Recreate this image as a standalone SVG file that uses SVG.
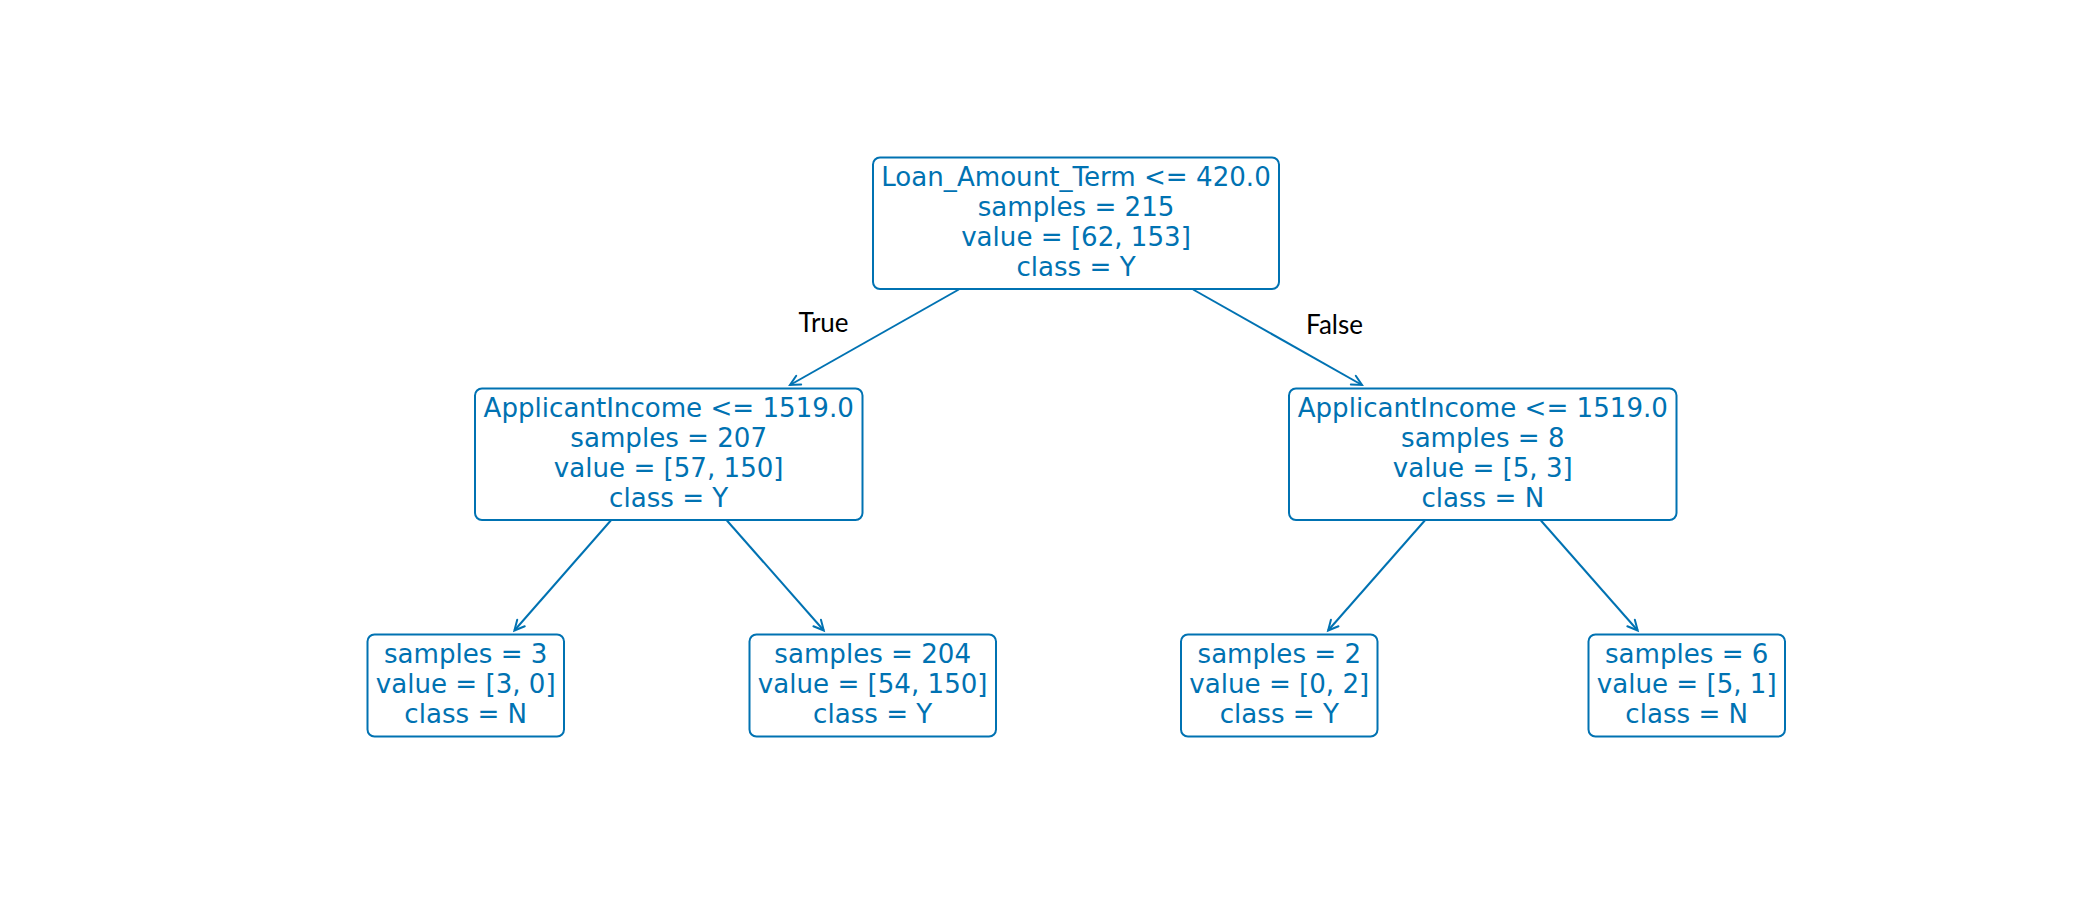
<svg xmlns="http://www.w3.org/2000/svg" width="2100" height="900" viewBox="0 0 2100 900">
<defs>
<marker id="ah" markerUnits="userSpaceOnUse" markerWidth="24" markerHeight="24" viewBox="-12 -12 24 24" refX="0" refY="0" orient="auto">
<path d="M-10,-5 L0,0 L-10,5" fill="none" stroke="#0072B2" stroke-width="2" stroke-linecap="round" stroke-linejoin="miter"/>
</marker>
</defs>
<style>
.box{fill:#ffffff;stroke:#0072B2;stroke-width:2}
.t{font-family:"DejaVu Sans",sans-serif;font-size:26.1px;fill:#0072B2;text-anchor:middle}
.e{stroke:#0072B2;stroke-width:2;fill:none;marker-end:url(#ah)}
.lbl{font-family:Lato,"Open Sans",sans-serif;font-size:26px;fill:#000000;text-anchor:middle}
</style>
<rect width="2100" height="900" fill="#ffffff"/>
<g id="connectors">
<line class="e" x1="958.8" y1="289.5" x2="790" y2="385"/>
<line class="e" x1="1193.1" y1="289.5" x2="1362" y2="385"/>
<line class="e" x1="610.8" y1="520.5" x2="514.4" y2="630.5"/>
<line class="e" x1="726.9" y1="520.5" x2="823.8" y2="630.5"/>
<line class="e" x1="1424.8" y1="520.5" x2="1328.1" y2="630.5"/>
<line class="e" x1="1540.9" y1="520.5" x2="1637.7" y2="630.5"/>
<text class="lbl" x="823.5" y="332">True</text>
<text class="lbl" x="1334.5" y="334">False</text>
</g>
<g id="node0">
<rect class="box" x="873" y="157.5" width="406" height="131.5" rx="7"/>
<text class="t" x="1076" y="185.5">Loan_Amount_Term &lt;= 420.0</text>
<text class="t" x="1076" y="215.5">samples = 215</text>
<text class="t" x="1076" y="245.5">value = [62, 153]</text>
<text class="t" x="1076" y="275.5">class = Y</text>
</g>
<g id="node1">
<rect class="box" x="475" y="388.5" width="387.5" height="131.5" rx="7"/>
<text class="t" x="668.7" y="416.5">ApplicantIncome &lt;= 1519.0</text>
<text class="t" x="668.7" y="446.5">samples = 207</text>
<text class="t" x="668.7" y="476.5">value = [57, 150]</text>
<text class="t" x="668.7" y="506.5">class = Y</text>
</g>
<g id="node4">
<rect class="box" x="1289" y="388.5" width="387.5" height="131.5" rx="7"/>
<text class="t" x="1482.8" y="416.5">ApplicantIncome &lt;= 1519.0</text>
<text class="t" x="1482.8" y="446.5">samples = 8</text>
<text class="t" x="1482.8" y="476.5">value = [5, 3]</text>
<text class="t" x="1482.8" y="506.5">class = N</text>
</g>
<g id="node2">
<rect class="box" x="367.5" y="634.5" width="196.5" height="102" rx="7"/>
<text class="t" x="465.7" y="663">samples = 3</text>
<text class="t" x="465.7" y="693">value = [3, 0]</text>
<text class="t" x="465.7" y="723">class = N</text>
</g>
<g id="node3">
<rect class="box" x="749.5" y="634.5" width="246.5" height="102" rx="7"/>
<text class="t" x="872.7" y="663">samples = 204</text>
<text class="t" x="872.7" y="693">value = [54, 150]</text>
<text class="t" x="872.7" y="723">class = Y</text>
</g>
<g id="node5">
<rect class="box" x="1181" y="634.5" width="196.5" height="102" rx="7"/>
<text class="t" x="1279.3" y="663">samples = 2</text>
<text class="t" x="1279.3" y="693">value = [0, 2]</text>
<text class="t" x="1279.3" y="723">class = Y</text>
</g>
<g id="node6">
<rect class="box" x="1588.5" y="634.5" width="196.5" height="102" rx="7"/>
<text class="t" x="1686.7" y="663">samples = 6</text>
<text class="t" x="1686.7" y="693">value = [5, 1]</text>
<text class="t" x="1686.7" y="723">class = N</text>
</g>
</svg>
